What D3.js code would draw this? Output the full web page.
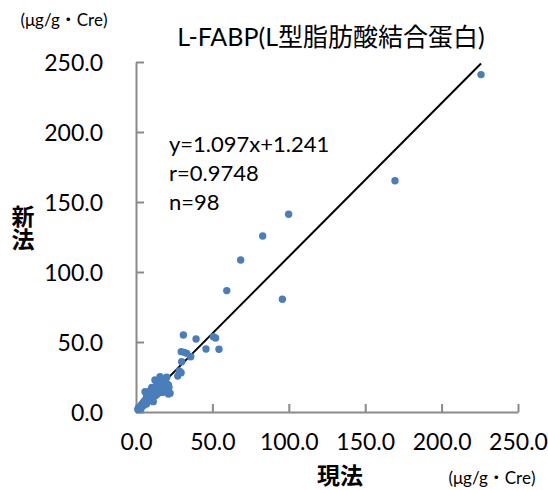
<!DOCTYPE html>
<html>
<head>
<meta charset="utf-8">
<script src="https://cdn.jsdelivr.net/npm/d3@7"></script>
<style>
  html, body { margin: 0; padding: 0; background: #fff; }
  svg { display: block; }
  text { font-family: Lato, "Noto Sans CJK JP", sans-serif; fill: #000; }
</style>
</head>
<body>
<svg id="chart" width="548" height="490"></svg>
<script>
// Existing method (x) vs new method (y), L-FABP in μg/g・Cre
const currentMethod = [
  225.8, 169.5, 99.9, 82.9, 68.5, 59.4, 95.8, 31.0, 39.3, 50.6,
  52.1, 45.8, 54.3, 29.6, 31.6, 33.2, 35.8, 29.9, 28.3, 29.5,
  27.3, 15.7, 15.1, 20.1, 21.2, 21.6, 21.2, 22.3,
  1.2, 1.5, 1.8, 2.0, 2.2, 2.5, 2.7, 3.0, 3.1, 3.4,
  3.6, 3.9, 4.1, 4.3, 4.6, 4.8, 5.0, 5.2, 5.5, 5.7,
  5.9, 6.1, 6.3, 6.6, 6.8, 7.0, 7.3, 7.5, 7.8, 8.0,
  8.3, 8.6, 8.8, 9.1, 9.4, 9.7, 10.0, 10.3, 10.5, 10.8,
  11.1, 11.3, 11.6, 11.9, 12.2, 12.4, 12.7, 13.0, 13.3, 13.6,
  13.9, 14.2, 14.6, 14.9, 15.2, 15.5, 15.9, 16.3, 16.7, 17.1,
  17.5, 17.9, 18.4, 18.9, 19.4, 19.9, 20.5, 3.3, 6.9, 9.2
];
const newMethod = [
  241.0, 165.2, 141.2, 125.7, 108.6, 86.7, 80.5, 55.0, 52.1, 53.8,
  52.9, 45.0, 44.8, 43.1, 42.6, 41.9, 39.5, 35.9, 29.3, 28.1,
  25.7, 25.2, 22.9, 24.8, 19.3, 17.6, 12.9, 13.4,
  1.8, 2.3, 2.0, 3.1, 2.6, 3.4, 2.9, 4.2, 3.5, 4.8,
  3.9, 5.2, 4.4, 6.1, 5.0, 5.7, 7.2, 4.9, 6.4, 8.0,
  14.5, 6.9, 7.6, 9.1, 5.8, 8.4, 10.2, 7.1, 9.6, 11.8,
  8.2, 10.4, 12.9, 9.0, 11.1, 13.7, 8.6, 17.6, 12.0, 14.8,
  10.3, 7.4, 13.2, 16.1, 11.4, 22.9, 14.9, 18.2, 12.1, 15.8,
  20.3, 13.6, 13.4, 17.4, 19.8, 15.1, 21.6, 17.0, 18.9, 14.0,
  20.4, 14.5, 22.1, 17.8, 23.9, 20.5, 16.2, 2.4, 11.5, 15.2
];
const axisTicks = [0, 50, 100, 150, 200, 250];
const fitSlope = 1.097;
const fitIntercept = 1.241;
const statLines = ["y=1.097x+1.241", "r=0.9748", "n=98"];
const chartTitle = "L-FABP(L型脂肪酸結合蛋白)";
const xTitle = "現法";
const yTitle = "新法";
const unitLabel = "(μg/g・Cre)";

const svg = d3.select("#chart");
const x = d3.scaleLinear().domain([0, 250]).range([136, 518]);
const y = d3.scaleLinear().domain([0, 250]).range([412, 62]);
const axisColor = "#8a8a8a";

// axes with inward ticks
const xAxis = svg.append("g").attr("transform", `translate(0,${y(0)})`)
  .call(d3.axisBottom(x).tickValues(axisTicks).tickSizeInner(-8).tickSizeOuter(0).tickFormat(d3.format(".1f")));
const yAxis = svg.append("g").attr("transform", `translate(${x(0)},0)`)
  .call(d3.axisLeft(y).tickValues(axisTicks).tickSizeInner(-8).tickSizeOuter(0).tickFormat(d3.format(".1f")));
[xAxis, yAxis].forEach(g => {
  g.select(".domain").attr("stroke", axisColor).attr("stroke-width", 2);
  g.selectAll(".tick line").attr("stroke", axisColor).attr("stroke-width", 2);
  g.selectAll(".tick text").attr("font-size", 23).attr("fill", "#000")
    .style("font-family", "Lato, 'Noto Sans CJK JP', sans-serif");
});
xAxis.selectAll(".tick text").attr("y", 22).attr("dy", "0.71em");
yAxis.selectAll(".tick text").attr("x", -33).attr("dy", "0.35em");

// regression line across the data range
const xMin = d3.min(currentMethod), xMax = d3.max(currentMethod);
svg.append("line")
  .attr("x1", x(xMin)).attr("y1", y(fitSlope * xMin + fitIntercept))
  .attr("x2", x(xMax)).attr("y2", y(fitSlope * xMax + fitIntercept))
  .attr("stroke", "#000").attr("stroke-width", 2);

// data points
const pts = d3.zip(currentMethod, newMethod);
svg.append("g").selectAll("circle").data(pts).join("circle")
  .attr("cx", d => x(d[0])).attr("cy", d => y(d[1]))
  .attr("r", 3.7).attr("fill", "#4a7ebb");

// statistics annotation
svg.append("g").selectAll("text").data(statLines).join("text")
  .attr("x", 169).attr("y", (d, i) => 152 + i * 29)
  .attr("font-size", 22).text(d => d);

// title and labels
svg.append("text").attr("x", 331).attr("y", 46).attr("text-anchor", "middle")
  .attr("font-size", 25).text(chartTitle);
svg.append("text").attr("x", 64).attr("y", 26).attr("text-anchor", "middle")
  .attr("font-size", 17).text(unitLabel);
svg.append("text").attr("x", 492).attr("y", 484).attr("text-anchor", "middle")
  .attr("font-size", 17).text(unitLabel);

svg.append("text").attr("x", 340).attr("y", 484).attr("text-anchor", "middle")
  .attr("font-size", 23).attr("font-weight", "bold").text(xTitle);
// vertical y-axis title
svg.append("text").attr("x", 22).attr("y", 228)
  .attr("text-anchor", "middle")
  .style("writing-mode", "vertical-rl")
  .attr("font-size", 23).attr("font-weight", "bold").text(yTitle);
</script>
</body>
</html>
